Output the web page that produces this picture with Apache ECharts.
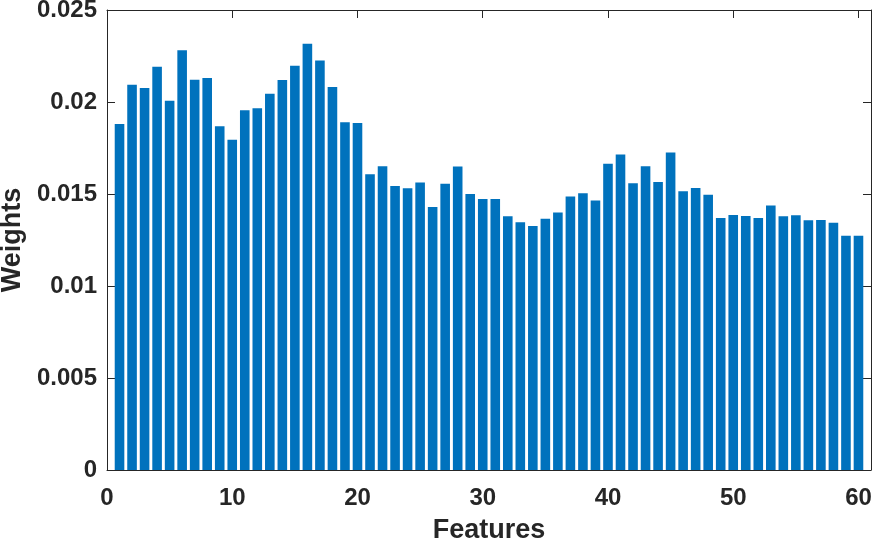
<!DOCTYPE html>
<html>
<head>
<meta charset="utf-8">
<script src="https://cdn.jsdelivr.net/npm/echarts@6/dist/echarts.min.js"></script>
<style>
html,body{margin:0;padding:0;background:#fff;}
#chart{width:874px;height:545px;}
</style>
</head>
<body>
<div id="chart"></div>
<script>
var features = [1,2,3,4,5,6,7,8,9,10,11,12,13,14,15,16,17,18,19,20,21,22,23,24,25,26,27,28,29,30,31,32,33,34,35,36,37,38,39,40,41,42,43,44,45,46,47,48,49,50,51,52,53,54,55,56,57,58,59,60];
var weights = [0.01880,0.02094,0.02076,0.02192,0.02007,0.02281,0.02121,0.02130,0.01868,0.01795,
               0.01955,0.01966,0.02045,0.02120,0.02197,0.02317,0.02225,0.02082,0.01890,0.01886,
               0.01607,0.01651,0.01544,0.01531,0.01562,0.01429,0.01556,0.01649,0.01500,0.01473,
               0.01473,0.01379,0.01346,0.01326,0.01366,0.01399,0.01486,0.01504,0.01464,0.01665,
               0.01714,0.01558,0.01651,0.01565,0.01725,0.01515,0.01533,0.01496,0.01370,0.01386,
               0.01380,0.01370,0.01437,0.01379,0.01384,0.01357,0.01359,0.01344,0.01273,0.01273];
var xTicks = [0,10,20,30,40,50,60];
var yTicks = ['0','0.005','0.01','0.015','0.02','0.025'];

var axisColor = '#262626';
var fontFamily = 'Liberation Sans, Arial, sans-serif';
var chart = echarts.init(document.getElementById('chart'));
var lineStyle = {color: axisColor, width: 1};
chart.setOption({
  animation: false,
  grid: {left: 107, right: 3, top: 10, bottom: 75, containLabel: false, outerBoundsMode: 'none'},
  xAxis: [{
    type: 'value', min: 0, max: 61, interval: 10,
    name: 'Features', nameLocation: 'middle', nameGap: 47,
    nameTextStyle: {color: axisColor, fontSize: 27, fontWeight: 'bold', fontFamily: fontFamily},
    axisLine: {show: true, onZero: false, lineStyle: lineStyle},
    axisTick: {show: true, inside: true, length: 8, lineStyle: lineStyle},
    axisLabel: {color: axisColor, fontSize: 24, fontWeight: 'bold', fontFamily: fontFamily, margin: 16,
      formatter: function(v){ return xTicks.indexOf(v) >= 0 ? String(v) : ''; }},
    splitLine: {show: false}
  }, {
    type: 'value', position: 'top', min: 0, max: 61, interval: 10,
    axisLine: {show: true, onZero: false, lineStyle: lineStyle},
    axisTick: {show: true, inside: true, length: 8, lineStyle: lineStyle},
    axisLabel: {show: false}, splitLine: {show: false}
  }],
  yAxis: [{
    type: 'value', min: 0, max: 0.025, interval: 0.005,
    name: 'Weights', nameLocation: 'middle', nameGap: 79,
    nameTextStyle: {color: axisColor, fontSize: 27, fontWeight: 'bold', fontFamily: fontFamily},
    axisLine: {show: true, onZero: false, lineStyle: lineStyle},
    axisTick: {show: true, inside: true, length: 8, lineStyle: lineStyle},
    axisLabel: {color: axisColor, fontSize: 24, fontWeight: 'bold', fontFamily: fontFamily, margin: 10,
      formatter: function(v){ var i = Math.round(v / 0.005); return yTicks[i] !== undefined ? yTicks[i] : ''; }},
    splitLine: {show: false}
  }, {
    type: 'value', position: 'right', min: 0, max: 0.025, interval: 0.005,
    axisLine: {show: true, onZero: false, lineStyle: lineStyle},
    axisTick: {show: true, inside: true, length: 8, lineStyle: lineStyle},
    axisLabel: {show: false}, splitLine: {show: false}
  }],
  series: [{
    type: 'bar',
    xAxisIndex: 0, yAxisIndex: 0,
    barWidth: 9.6,
    itemStyle: {color: '#0072BD'},
    data: features.map(function(f, i){ return [f, weights[i]]; })
  }]
});
</script>
</body>
</html>
